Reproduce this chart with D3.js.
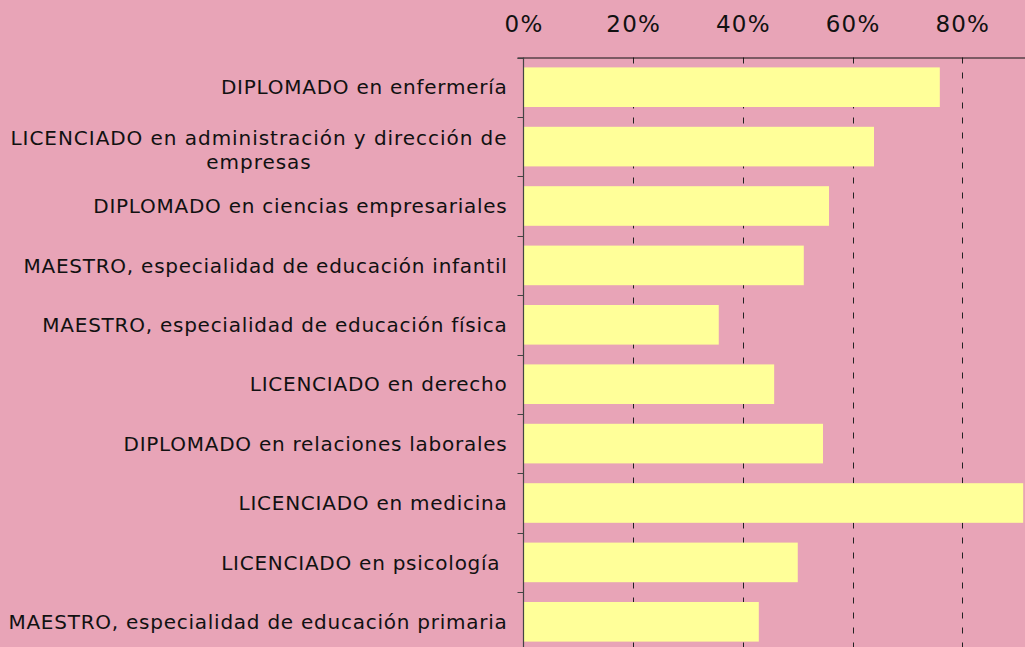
<!DOCTYPE html>
<html>
<head>
<meta charset="utf-8">
<script src="https://cdn.jsdelivr.net/npm/d3@7"></script>
<style>
  body { margin: 0; background: #e8a4b7; overflow: hidden; }
  svg { display: block; }
  text { font-family: Verdana, "DejaVu Sans", sans-serif; fill: #111; }
</style>
</head>
<body>
<div id="chart-container"></div>
<script>
// DATA ------------------------------
const categories = [
  'DIPLOMADO en enfermería',
  'LICENCIADO en administración y dirección de\nempresas',
  'DIPLOMADO en ciencias empresariales',
  'MAESTRO, especialidad de educación infantil',
  'MAESTRO, especialidad de educación física',
  'LICENCIADO en derecho',
  'DIPLOMADO en relaciones laborales',
  'LICENCIADO en medicina',
  'LICENCIADO en psicología ',
  'MAESTRO, especialidad de educación primaria'
];
const values = [0.759, 0.639, 0.557, 0.511, 0.356, 0.457, 0.546, 0.911, 0.500, 0.429];
const tickValues = [0, 0.2, 0.4, 0.6, 0.8];

// CHART INIT ------------------------
const width = 1025, height = 647;
const plot = { left: 523.5, right: 1072, top: 57.5, bottom: 651.5 };

const svg = d3.select('#chart-container').append('svg')
  .attr('width', width)
  .attr('height', height);

const xScale = d3.scaleLinear().domain([0, 1]).range([plot.left, plot.right]);
const yScale = d3.scaleBand().domain(categories).range([plot.top, plot.bottom])
  .paddingInner(1 / 3).paddingOuter(1 / 6);

// dashed gridlines
svg.append('g').selectAll('line').data(tickValues.filter(d => d > 0)).join('line')
  .attr('x1', d => Math.round(xScale(d)) + 0.5).attr('x2', d => Math.round(xScale(d)) + 0.5)
  .attr('y1', plot.top).attr('y2', height)
  .attr('stroke', '#222').attr('stroke-width', 1)
  .attr('stroke-dasharray', '6,9');

// bars
svg.append('g').selectAll('rect').data(values).join('rect')
  .attr('x', xScale(0))
  .attr('y', (d, i) => yScale(categories[i]))
  .attr('width', d => xScale(d) - xScale(0))
  .attr('height', yScale.bandwidth())
  .attr('fill', '#ffff99');

// top axis (percent labels)
const xAxis = d3.axisTop(xScale).tickValues(tickValues).tickSize(0).tickPadding(26)
  .tickFormat(d3.format('.0%'));
const gx = svg.append('g').attr('transform', `translate(0,${plot.top + 0.5})`).call(xAxis);
gx.select('.domain').attr('stroke', '#111').attr('d', `M${plot.left - 6},0H${width}`);
gx.selectAll('text').attr('font-size', 23).attr('letter-spacing', 1.2)
  .attr('font-family', 'Verdana, "DejaVu Sans", sans-serif').attr('fill', '#111');

// left axis line and ticks on band boundaries
const step = yScale.step();
const boundaries = d3.range(categories.length + 1).map(i => plot.top + i * step);
svg.append('line')
  .attr('x1', plot.left).attr('x2', plot.left)
  .attr('y1', plot.top).attr('y2', height)
  .attr('stroke', '#444').attr('stroke-width', 1.2);
svg.append('g').selectAll('line').data(boundaries).join('line')
  .attr('x1', plot.left - 6).attr('x2', plot.left)
  .attr('y1', d => Math.round(d) + 0.5).attr('y2', d => Math.round(d) + 0.5)
  .attr('stroke', '#444');

// category labels
const fontSize = 20, lineH = 24.5;
const labels = svg.append('g').selectAll('text').data(categories).join('text')
  .attr('font-size', fontSize)
  .attr('letter-spacing', 0.75)
  .style('white-space', 'pre')
  .attr('text-anchor', 'end')
  .attr('x', plot.left - 16);

labels.each(function (d) {
  const lines = d.split('\n');
  const t = d3.select(this);
  const cy = yScale(d) + yScale.bandwidth() / 2;
  if (lines.length === 1) {
    t.attr('y', cy).attr('dy', '0.36em').text(d);
    return;
  }
  // multi-line: centre the lines under each other, block right-aligned
  t.attr('text-anchor', 'middle').attr('letter-spacing', 0.95);
  const spans = t.selectAll('tspan').data(lines).join('tspan').text(l => l);
  const w = d3.max(spans.nodes(), n => n.getComputedTextLength());
  const x0 = plot.left - 16 - w / 2;
  spans.attr('x', x0)
    .attr('y', (l, i) => cy + 3 + (i - (lines.length - 1) / 2) * lineH)
    .attr('dy', '0.36em');
});
</script>
</body>
</html>
